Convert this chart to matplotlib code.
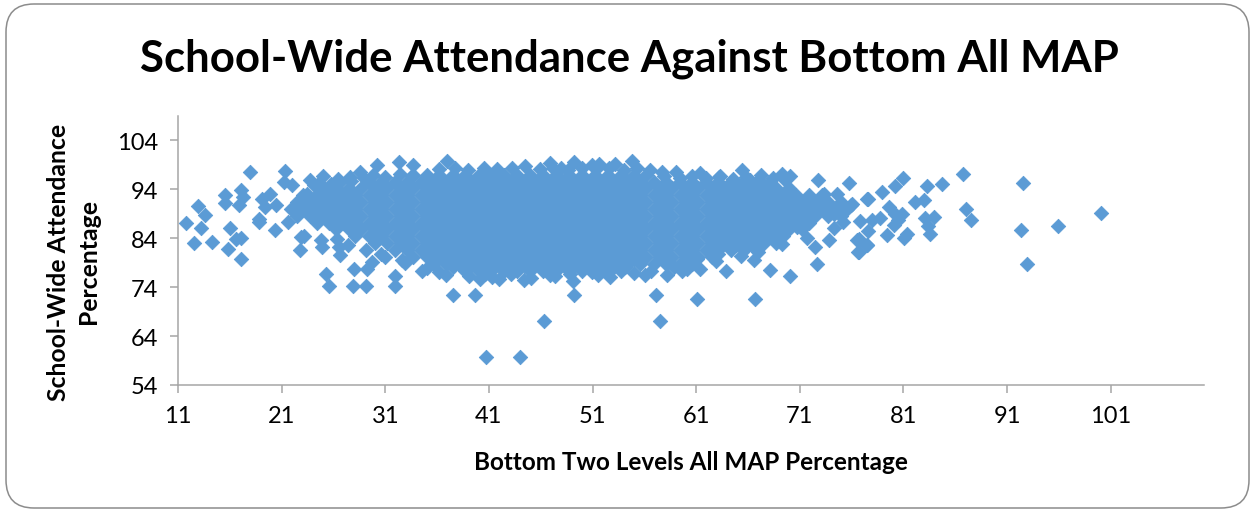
import matplotlib
matplotlib.use("Agg")
import matplotlib.pyplot as plt
from matplotlib.patches import FancyBboxPatch
from matplotlib.transforms import IdentityTransform

# values
x_ticks = [11, 21, 31, 41, 51, 61, 71, 81, 91, 101]
y_ticks = [54, 64, 74, 84, 94, 104]

# scattered points on the left side and under the cloud
left_x = [17.95, 21.3, 11.8, 12.9, 13.6, 13.25, 12.5, 14.3, 15.5, 15.5, 17.05, 17.25, 16.9, 16.0, 15.8, 17.1, 16.6, 17.1,
          18.85, 18.85, 20.4, 21.65, 19.1, 19.9, 19.4, 20.5, 21.2, 22.0, 22.9, 22.8, 24.9, 26.65, 26.5, 25.25, 25.6,
          27.85, 29.15, 31.9, 31.9, 28.0, 29.2, 29.7, 30.6, 32.65, 34.5, 36.9, 37.5, 39.65, 40.15, 40.65, 42.0, 40.7,
          44.0, 30.2, 32.3, 33.65, 28.6, 25.0, 23.75, 24.1, 23.4, 26.65, 27.6, 36.95]
left_y = [97.6, 97.7, 87.2, 90.5, 88.7, 86.1, 83.0, 83.2, 92.8, 91.2, 93.8, 92.45, 90.75, 86.1, 81.8, 79.7, 83.9, 84.1,
          88.0, 87.3, 85.7, 87.3, 92.1, 93.1, 90.4, 90.75, 95.5, 94.85, 84.25, 81.65, 82.3, 80.5, 82.2, 76.75, 74.15,
          74.15, 74.15, 74.15, 76.25, 77.75, 77.75, 79.15, 80.7, 79.5, 77.4, 76.4, 72.3, 72.45, 75.7, 76.75, 75.7, 59.65,
          59.65, 98.95, 99.6, 98.95, 97.6, 96.75, 95.9, 94.85, 93.1, 95.5, 96.55, 99.9]

# edge of the cloud, middle of the chart
mid_x = [46.9, 48.0, 49.2, 50.9, 51.6, 53.2, 54.8, 57.7, 59.1, 61.4, 63.3, 65.4, 66.2, 67.3, 69.3, 70.1, 72.8, 75.7, 74.6,
         77.5, 75.9, 74.25, 76.8, 76.7, 76.7, 77.5, 71.7, 72.5, 73.8, 72.65, 70.1, 68.1, 66.7, 63.9, 61.1, 57.5, 57.1,
         49.2, 46.35, 44.4, 46.9, 49.15, 50.95, 53.1, 54.15, 56.1, 58.2, 59.6, 61.4, 61.05, 63.15, 64.8, 67.0, 69.3, 70.7]
mid_y = [99.3, 98.3, 99.6, 98.95, 99.1, 99.1, 99.75, 97.6, 97.6, 97.4, 96.75, 97.9, 95.9, 96.9, 97.2, 96.75, 95.9, 95.4, 93.1,
         92.1, 90.75, 89.05, 87.5, 83.9, 81.2, 82.55, 84.1, 82.2, 83.6, 78.65, 76.2, 77.55, 71.6, 77.3, 71.6, 67.0, 72.3,
         72.4, 67.0, 75.4, 76.4, 75.2, 77.1, 78.1, 78.1, 76.4, 76.4, 77.3, 77.75, 79.8, 80.85, 82.55, 81.2, 82.9, 86.3]

# right hand tail
right_x = [74.25, 78.9, 80.2, 81.0, 83.3, 84.7, 86.7, 92.5, 82.1, 82.95, 87.05, 87.5, 92.3, 95.9, 100.05, 92.95, 77.6, 78.75,
           77.95, 76.55, 76.65, 77.45, 79.4, 79.65, 80.2, 80.85, 80.05, 80.5, 81.3, 81.05, 83.1, 83.95, 83.4, 83.6, 76.0,
           74.9, 73.3, 75.2, 77.6]
right_y = [86.0, 93.5, 94.7, 96.35, 94.7, 95.0, 97.2, 95.4, 91.4, 91.8, 90.05, 87.65, 85.7, 86.45, 89.25, 78.65, 85.45, 88.15,
           87.65, 83.6, 81.2, 82.55, 84.7, 90.4, 89.05, 89.05, 86.8, 87.7, 84.95, 84.05, 88.2, 88.35, 86.5, 84.8, 91.1,
           89.7, 93.1, 87.35, 92.1]

# extra points along the rim of the cloud
rim_x = [36.2, 37.7, 39.0, 40.5, 41.8, 43.2, 44.5, 45.9, 47.2, 48.6, 50.0, 51.3, 52.6, 54.0, 55.3, 56.5, 29.8, 31.0, 32.4, 33.6,
         57.9, 59.4, 60.6, 61.9, 63.2, 64.6, 65.8, 67.1, 68.4, 69.6, 26.4, 27.7, 28.9, 24.6, 25.8, 23.2, 24.8, 26.3, 27.4, 29.1,
         31.0, 32.9, 35.0, 36.2, 37.5, 39.1, 41.3, 43.1, 45.1, 47.4, 48.8, 51.5, 52.7, 55.0, 56.6, 58.9, 60.1, 62.9, 65.3, 66.6]
rim_y = [98.1, 98.3, 98.0, 98.4, 98.1, 98.3, 98.7, 98.1, 98.4, 98.0, 98.3, 98.2, 98.4, 98.0, 98.3, 98.0, 96.9, 96.6, 97.1, 96.7,
         96.7, 96.4, 96.8, 96.3, 96.5, 96.2, 96.6, 96.0, 96.3, 95.9, 96.2, 95.7, 96.4, 95.3, 95.0, 84.4, 83.6, 83.9, 82.6, 81.7,
         80.1, 78.9, 78.0, 77.2, 78.1, 76.3, 76.0, 76.6, 75.9, 76.2, 76.7, 76.4, 76.0, 76.8, 77.4, 78.2, 77.8, 79.3, 80.3, 79.6]

# the dense cloud, one list of x values per attendance level
row_levels = [97.0, 95.6, 94.2, 92.8, 91.4, 90.0, 88.6, 87.2, 85.8, 84.4, 83.0, 81.6, 80.2, 78.8, 77.4]
row_970 = [33.7, 35, 36.2, 37.5, 38.7, 40, 41.2, 42.5, 43.7, 45, 46.2, 47.5, 48.7, 50, 51.2, 52.5, 53.7, 55, 56.2]
row_956 = [29.4, 30.6, 31.9, 33.1, 34.4, 35.6, 36.9, 38.1, 39.4, 40.6, 41.9, 43.1, 44.4, 45.6, 46.9, 48.1, 49.4, 50.6, 51.9,
           53.1, 54.4, 55.6, 56.9, 58.1, 59.4, 60.6, 61.9, 63.1, 64.4, 65.6, 66.9, 68.1]
row_942 = [25, 26.2, 27.5, 28.7, 30, 31.2, 32.5, 33.7, 35, 36.2, 37.5, 38.7, 40, 41.2, 42.5, 43.7, 45, 46.2, 47.5, 48.7, 50,
           51.2, 52.5, 53.7, 55, 56.2, 57.5, 58.7, 60, 61.2, 62.5, 63.7, 65, 66.2, 67.5, 68.7, 70]
row_928 = [23.1, 24.4, 25.6, 26.9, 28.1, 29.4, 30.6, 31.9, 33.1, 34.4, 35.6, 36.9, 38.1, 39.4, 40.6, 41.9, 43.1, 44.4, 45.6,
           46.9, 48.1, 49.4, 50.6, 51.9, 53.1, 54.4, 55.6, 56.9, 58.1, 59.4, 60.6, 61.9, 63.1, 64.4, 65.6, 66.9, 68.1, 69.4,
           70.6, 71.9, 73.1]
row_914 = [22.5, 23.7, 25, 26.2, 27.5, 28.7, 30, 31.2, 32.5, 33.7, 35, 36.2, 37.5, 38.7, 40, 41.2, 42.5, 43.7, 45, 46.2, 47.5,
           48.7, 50, 51.2, 52.5, 53.7, 55, 56.2, 57.5, 58.7, 60, 61.2, 62.5, 63.7, 65, 66.2, 67.5, 68.7, 70, 71.2, 72.5, 73.7, 75]
row_900 = [21.9, 23.1, 24.4, 25.6, 26.9, 28.1, 29.4, 30.6, 31.9, 33.1, 34.4, 35.6, 36.9, 38.1, 39.4, 40.6, 41.9, 43.1, 44.4,
           45.6, 46.9, 48.1, 49.4, 50.6, 51.9, 53.1, 54.4, 55.6, 56.9, 58.1, 59.4, 60.6, 61.9, 63.1, 64.4, 65.6, 66.9, 68.1,
           69.4, 70.6, 71.9, 73.1, 74.4, 75.6]
row_886 = [22.5, 23.7, 25, 26.2, 27.5, 28.7, 30, 31.2, 32.5, 33.7, 35, 36.2, 37.5, 38.7, 40, 41.2, 42.5, 43.7, 45, 46.2, 47.5,
           48.7, 50, 51.2, 52.5, 53.7, 55, 56.2, 57.5, 58.7, 60, 61.2, 62.5, 63.7, 65, 66.2, 67.5, 68.7, 70, 71.2, 72.5, 73.7, 75]
row_872 = [24.4, 25.6, 26.9, 28.1, 29.4, 30.6, 31.9, 33.1, 34.4, 35.6, 36.9, 38.1, 39.4, 40.6, 41.9, 43.1, 44.4, 45.6, 46.9,
           48.1, 49.4, 50.6, 51.9, 53.1, 54.4, 55.6, 56.9, 58.1, 59.4, 60.6, 61.9, 63.1, 64.4, 65.6, 66.9, 68.1, 69.4, 70.6, 71.9]
row_858 = [26.2, 27.5, 28.7, 30, 31.2, 32.5, 33.7, 35, 36.2, 37.5, 38.7, 40, 41.2, 42.5, 43.7, 45, 46.2, 47.5, 48.7, 50, 51.2,
           52.5, 53.7, 55, 56.2, 57.5, 58.7, 60, 61.2, 62.5, 63.7, 65, 66.2, 67.5, 68.7, 70, 71.2]
row_844 = [28.1, 29.4, 30.6, 31.9, 33.1, 34.4, 35.6, 36.9, 38.1, 39.4, 40.6, 41.9, 43.1, 44.4, 45.6, 46.9, 48.1, 49.4, 50.6,
           51.9, 53.1, 54.4, 55.6, 56.9, 58.1, 59.4, 60.6, 61.9, 63.1, 64.4, 65.6, 66.9, 68.1, 69.4]
row_830 = [30, 31.2, 32.5, 33.7, 35, 36.2, 37.5, 38.7, 40, 41.2, 42.5, 43.7, 45, 46.2, 47.5, 48.7, 50, 51.2, 52.5, 53.7, 55,
           56.2, 57.5, 58.7, 60, 61.2, 62.5, 63.7, 65, 66.2, 67.5, 68.7]
row_816 = [31.9, 33.1, 34.4, 35.6, 36.9, 38.1, 39.4, 40.6, 41.9, 43.1, 44.4, 45.6, 46.9, 48.1, 49.4, 50.6, 51.9, 53.1, 54.4,
           55.6, 56.9, 58.1, 59.4, 60.6, 61.9, 63.1, 64.4, 65.6, 66.9]
row_802 = [33.7, 35, 36.2, 37.5, 38.7, 40, 41.2, 42.5, 43.7, 45, 46.2, 47.5, 48.7, 50, 51.2, 52.5, 53.7, 55, 56.2, 57.5, 58.7,
           60, 61.2, 62.5]
row_788 = [35.6, 36.9, 38.1, 39.4, 40.6, 41.9, 43.1, 44.4, 45.6, 46.9, 48.1, 49.4, 50.6, 51.9, 53.1, 54.4, 55.6, 56.9, 58.1,
           59.4, 60.6]
row_774 = [38.7, 40, 41.2, 42.5, 43.7, 45, 46.2, 47.5, 48.7, 50, 51.2, 52.5, 53.7]
rows = [row_970, row_956, row_942, row_928, row_914, row_900, row_886, row_872, row_858, row_844, row_830, row_816, row_802,
        row_788, row_774]

xs = left_x + mid_x + right_x + rim_x
ys = left_y + mid_y + right_y + rim_y
for level, row in zip(row_levels, rows):
    xs = xs + row
    ys = ys + [level] * len(row)

plt.rcParams['font.family'] = ['Lato', 'DejaVu Sans']

fig = plt.figure(figsize=(12.52, 5.10), dpi=100)
fig.add_artist(FancyBboxPatch((6, 1), 1243, 504, boxstyle="round,pad=0,rounding_size=28", zorder=-1,
                              transform=IdentityTransform(), fc="white", ec="#8c8c8c", lw=1.1))

ax = fig.add_axes([178/1252, 124/510, 1026/1252, 269/510])
ax.patch.set_alpha(0)
ax.scatter(xs, ys, marker="D", s=54, color="#5B9BD5", edgecolors="#5B9BD5", linewidths=0.6, clip_on=False)

ax.set_xlim(11, 110)
ax.set_ylim(54, 109)
ax.set_xticks(x_ticks)
ax.set_yticks(y_ticks)
ax.spines["top"].set_visible(False)
ax.spines["right"].set_visible(False)
ax.spines["left"].set_color("#a6a6a6")
ax.spines["bottom"].set_color("#a6a6a6")
ax.spines["left"].set_linewidth(1.1)
ax.spines["bottom"].set_linewidth(1.1)
ax.tick_params(axis="both", length=5.5, width=1.1, color="#a6a6a6", labelsize=17, labelcolor="black", pad=9)

ax.set_xlabel("Bottom Two Levels All MAP Percentage", fontsize=17.5, fontweight="bold", labelpad=17)
fig.text(73.5/1252, 1-262/510, "School-Wide Attendance\nPercentage", fontsize=17.8, fontweight="bold",
         rotation=90, ha="center", va="center", linespacing=1.35)
fig.text(629/1252, 1-59/510, "School-Wide Attendance Against Bottom All MAP", fontsize=31.5, fontweight="bold",
         ha="center", va="center")

fig.savefig("out.png", dpi=100)
